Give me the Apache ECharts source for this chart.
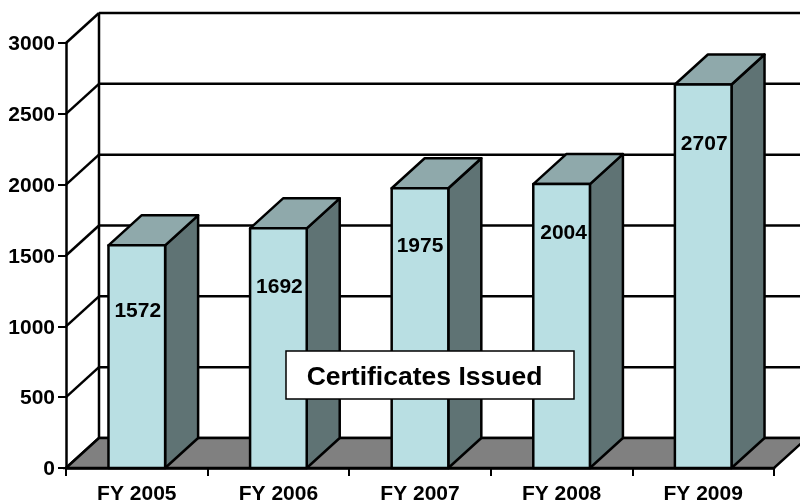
<!DOCTYPE html>
<html>
<head>
<meta charset="utf-8">
<title>Certificates Issued</title>
<script src="https://cdn.jsdelivr.net/npm/echarts@6/dist/echarts.min.js"></script>
<style>
  html, body { margin: 0; padding: 0; background: #fff; }
  #chart { width: 800px; height: 504px; }
</style>
</head>
<body>
<div id="chart"></div>
<script>
// data
const years = ['FY 2005', 'FY 2006', 'FY 2007', 'FY 2008', 'FY 2009'];
const certificates = [1572, 1692, 1975, 2004, 2707];
const yTicks = [0, 500, 1000, 1500, 2000, 2500, 3000];

// 3d look: how far the back wall sits from the front plane, in px
const depthX = 33;
const depthY = -30;
const barRatio = 0.4;

// the value labels were moved by hand in the original, px from bar centre / top
const labelDx = [1, 1, 0, 2, 1];
const labelDy = [66, 59, 58, 49, 60];

const FONT = '"Liberation Sans", Arial, sans-serif';
const line = { stroke: '#000', lineWidth: 2.5 };

// back wall, side wall and floor
function renderWalls(params, api) {
  const sys = params.coordSys;
  const left = sys.x;
  const right = sys.x + sys.width;
  const y = api.coord([0, api.value(1)])[1];
  const children = [
    { type: 'line', shape: { x1: left, y1: y, x2: left + depthX, y2: y + depthY }, style: line },
    { type: 'line', shape: { x1: left + depthX, y1: y + depthY, x2: right + depthX, y2: y + depthY }, style: line }
  ];
  if (api.value(1) === 0) {
    children.push({
      type: 'polygon',
      shape: { points: [[left, y], [left + depthX, y + depthY], [right + depthX, y + depthY], [right, y]] },
      style: { fill: '#808080', stroke: '#000', lineWidth: 2.5 }
    });
    children.push({
      type: 'line',
      shape: { x1: left + depthX, y1: sys.y + depthY, x2: left + depthX, y2: y + depthY },
      style: line
    });
  }
  return { type: 'group', children: children };
}

// one box per year: side, top, front
function renderBar(params, api) {
  const i = api.value(0);
  const top = api.coord([i, api.value(1)]);
  const base = api.coord([i, 0]);
  const w = api.size([1, 0])[0] * barRatio;
  const x0 = top[0] - w / 2;
  const x1 = top[0] + w / 2;
  const yT = top[1];
  const yB = base[1];
  const edge = { stroke: '#000', lineWidth: 2.5, lineJoin: 'round' };
  return {
    type: 'group',
    children: [
      {
        type: 'polygon',
        shape: { points: [[x1, yT], [x1 + depthX, yT + depthY], [x1 + depthX, yB + depthY], [x1, yB]] },
        style: Object.assign({ fill: '#5F7374' }, edge)
      },
      {
        type: 'polygon',
        shape: { points: [[x0, yT], [x0 + depthX, yT + depthY], [x1 + depthX, yT + depthY], [x1, yT]] },
        style: Object.assign({ fill: '#8FA9AB' }, edge)
      },
      {
        type: 'rect',
        shape: { x: x0, y: yT, width: w, height: yB - yT },
        style: Object.assign({ fill: '#B9DFE3' }, edge)
      },
      {
        type: 'text',
        style: {
          text: String(api.value(1)),
          x: top[0] + labelDx[i],
          y: yT + labelDy[i],
          align: 'center',
          verticalAlign: 'middle',
          font: 'bold 21px ' + FONT,
          fill: '#000'
        }
      }
    ]
  };
}

const option = {
  animation: false,
  backgroundColor: '#fff',
  grid: { left: 66, right: 26, top: 43, bottom: 36, outerBoundsMode: 'none' },
  xAxis: {
    type: 'category',
    data: years,
    axisLine: { lineStyle: { color: '#000', width: 2.5 } },
    axisTick: { show: true, length: 8, lineStyle: { color: '#000', width: 2 } },
    axisLabel: { color: '#000', fontFamily: FONT, fontWeight: 'bold', fontSize: 21, margin: 16 }
  },
  yAxis: {
    type: 'value',
    min: 0,
    max: 3000,
    interval: 500,
    splitLine: { show: false },
    axisLine: { show: true, lineStyle: { color: '#000', width: 2.5 } },
    axisTick: { show: true, length: 8, lineStyle: { color: '#000', width: 2 } },
    axisLabel: {
      color: '#000',
      fontFamily: FONT,
      fontWeight: 'bold',
      fontSize: 21,
      margin: 11,
      // top anchored with a short line box, sits the digits a bit under the tick
      verticalAlign: 'top',
      lineHeight: 3,
      formatter: value => String(value)
    }
  },
  series: [
    {
      type: 'custom',
      silent: true,
      z: 1,
      renderItem: renderWalls,
      data: yTicks.map(v => [0, v])
    },
    {
      type: 'custom',
      silent: true,
      z: 3,
      renderItem: renderBar,
      data: certificates.map((v, i) => [i, v])
    }
  ],
  graphic: [
    {
      type: 'rect',
      z: 10,
      shape: { x: 286, y: 351, width: 288, height: 48 },
      style: { fill: '#fff', stroke: '#000', lineWidth: 1.5 }
    },
    {
      type: 'text',
      z: 11,
      style: {
        text: 'Certificates Issued',
        x: 424.5,
        y: 378,
        align: 'center',
        verticalAlign: 'middle',
        font: 'bold 26.5px ' + FONT,
        fill: '#000'
      }
    }
  ]
};

const myChart = echarts.init(document.getElementById('chart'));
myChart.setOption(option);
</script>
</body>
</html>
